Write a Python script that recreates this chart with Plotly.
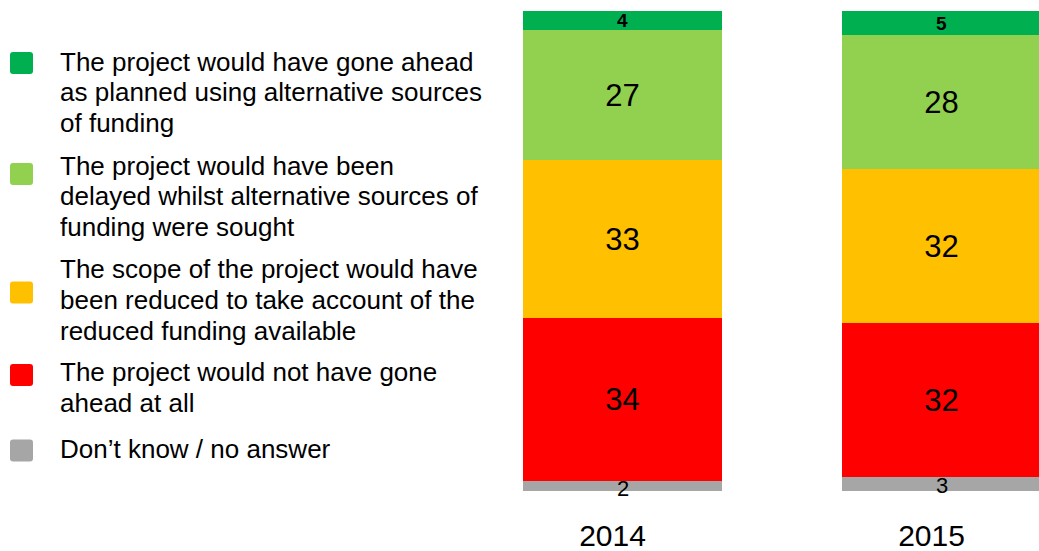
import plotly.graph_objects as go

# Survey responses (%) by year, stacked bottom to top
years = ["2014", "2015"]
dont_know = [2, 3]
not_ahead = [34, 32]
reduced = [33, 32]
delayed = [27, 28]
planned = [4, 5]

series_names = [
    "Don’t know / no answer",
    "The project would not have gone ahead at all",
    "The scope of the project would have been reduced to take account of the reduced funding available",
    "The project would have been delayed whilst alternative sources of funding were sought",
    "The project would have gone ahead as planned using alternative sources of funding",
]
# legend text, one list of wrapped lines per series (same order as series_names)
legend_lines = [
    ["Don’t know / no answer"],
    ["The project would not have gone", "ahead at all"],
    ["The scope of the project would have", "been reduced to take account of the",
     "reduced funding available"],
    ["The project would have been", "delayed whilst alternative sources of",
     "funding were sought"],
    ["The project would have gone ahead", "as planned using alternative sources",
     "of funding"],
]
series_values = [dont_know, not_ahead, reduced, delayed, planned]
colors = ["#A6A6A6", "#FF0000", "#FFC000", "#92D050", "#00B050"]

FONT = "Liberation Sans, Arial, sans-serif"
W, H = 1039, 551
M_L, M_R, M_T, M_B = 500, 0, 11, 60
PW, PH = W - M_L - M_R, H - M_T - M_B

fig = go.Figure()
annots = []
for name, vals, col in zip(series_names, series_values, colors):
    small = max(vals) < 10
    fig.add_trace(go.Bar(
        x=years, y=vals, name=name,
        marker=dict(color=col, line=dict(width=0)),
        width=0.624,
        text=None if small else vals,
        textposition="inside",
        insidetextanchor="middle",
        constraintext="none",
        textangle=0,
        textfont=dict(family=FONT, color="#000000", size=31),
        showlegend=False,
        hoverinfo="skip",
    ))

# value labels for the thin top and bottom segments (x = category index)
for i, v in enumerate(dont_know):
    annots.append(dict(xref="x", yref="y", x=i, y=v / 2, text=str(v),
                       showarrow=False, yshift=-2,
                       font=dict(family=FONT, size=22, color="#000000")))
for i, v in enumerate(planned):
    annots.append(dict(xref="x", yref="y", x=i, y=100 - v / 2, text=f"<b>{v}</b>",
                       showarrow=False,
                       font=dict(family=FONT, size=19, color="#000000")))


def px_to_paper(px, py):
    return (px - M_L) / PW, (M_T + PH - py) / PH


def rounded_square(x0, y0, x1, y1, r):
    # path in paper coordinates with softened corners
    (a, b), (c, d) = px_to_paper(x0, y0), px_to_paper(x1, y1)
    rx, ry = r / PW, r / PH
    return (f"M{a+rx},{b} L{c-rx},{b} Q{c},{b} {c},{b-ry} "
            f"L{c},{d+ry} Q{c},{d} {c-rx},{d} L{a+rx},{d} "
            f"Q{a},{d} {a},{d+ry} L{a},{b-ry} Q{a},{b} {a+rx},{b} Z")


LEG_SIZE = 26
LINE_STEP = 30.7
# legend rows top to bottom: square centre y and first baseline y (pixels)
legend_layout = [(63, 69.3), (174, 173.3), (292.5, 276.7), (375, 380), (450.5, 456.7)]
shapes = []
for (sq_cy, base0), lines, col in zip(legend_layout, legend_lines[::-1], colors[::-1]):
    shapes.append(dict(type="path", xref="paper", yref="paper",
                       path=rounded_square(10, sq_cy - 11, 33, sq_cy + 11, 3),
                       fillcolor=col, line=dict(width=0)))
    for k, line in enumerate(lines):
        top = base0 + k * LINE_STEP - 1 - 0.905 * LEG_SIZE
        tx, ty = px_to_paper(58, top)
        annots.append(dict(xref="paper", yref="paper", x=tx, y=ty,
                           xanchor="left", yanchor="top", align="left",
                           text=line, showarrow=False,
                           font=dict(family=FONT, size=LEG_SIZE, color="#000000")))

fig.update_layout(
    barmode="stack",
    width=W, height=H,
    margin=dict(l=M_L, r=M_R, t=M_T, b=M_B, pad=0),
    paper_bgcolor="white", plot_bgcolor="white",
    bargap=0,
    shapes=shapes,
    annotations=annots,
    xaxis=dict(type="category", range=[-0.384, 1.3056],
               showgrid=False, zeroline=False, showline=False, ticks="",
               ticklabelstandoff=24, ticklabelshift=-10,
               tickfont=dict(family=FONT, size=30, color="#000000")),
    yaxis=dict(range=[0, 100], visible=False),
    font=dict(family=FONT),
)

fig.write_html("out.html")
